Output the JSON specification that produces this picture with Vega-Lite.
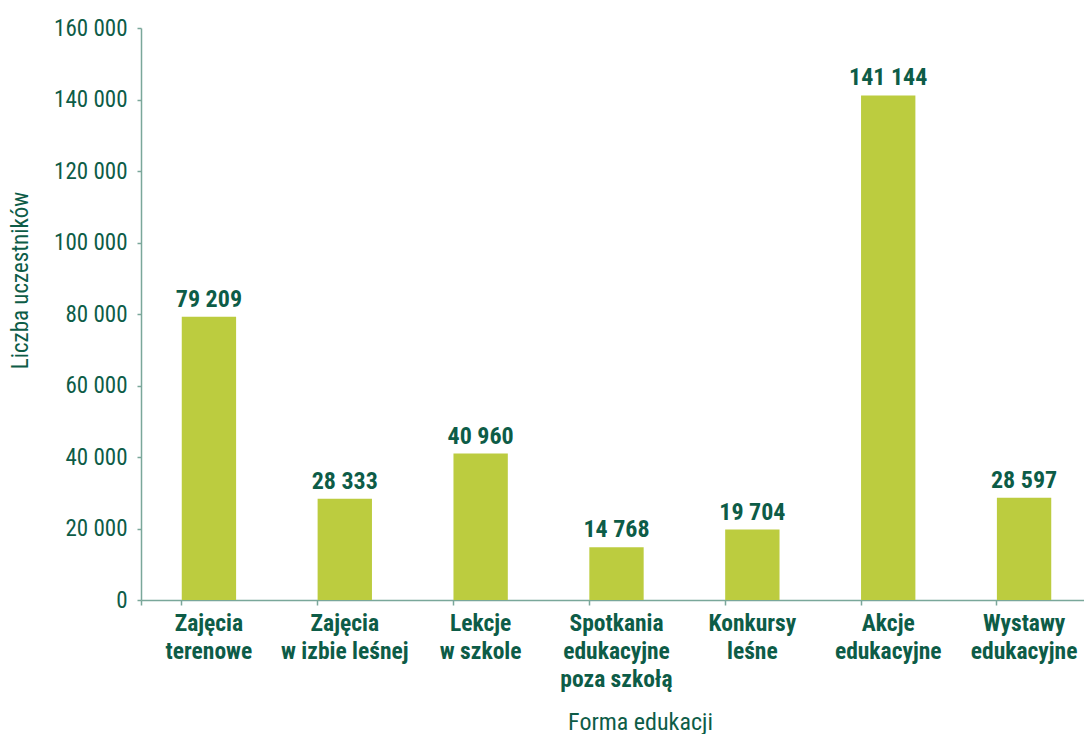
{
  "$schema": "https://vega.github.io/schema/vega-lite/v6.json",
  "width": 951,
  "height": 572,
  "autosize": {"type": "none"},
  "padding": {"left": 141, "top": 28, "right": 0, "bottom": 134},
  "background": "white",
  "config": {
    "view": {"stroke": null},
    "locale": {"number": {"decimal": ",", "thousands": " ", "grouping": [3], "currency": ["", " zł"]}},
    "font": "Roboto Condensed, Roboto"
  },
  "data": {
    "values": [
      {"forma": "Zajęcia\nterenowe", "liczba": 79209},
      {"forma": "Zajęcia\nw izbie leśnej", "liczba": 28333},
      {"forma": "Lekcje\nw szkole", "liczba": 40960},
      {"forma": "Spotkania\nedukacyjne\npoza szkołą", "liczba": 14768},
      {"forma": "Konkursy\nleśne", "liczba": 19704},
      {"forma": "Akcje\nedukacyjne", "liczba": 141144},
      {"forma": "Wystawy\nedukacyjne", "liczba": 28597}
    ]
  },
  "encoding": {
    "x": {
      "field": "forma",
      "type": "nominal",
      "sort": null,
      "scale": {"paddingInner": 0.6, "paddingOuter": 0.3},
      "axis": {
        "title": "Forma edukacji",
        "titleFont": "Roboto Condensed, Roboto",
        "titleFontSize": 24,
        "titleFontWeight": "normal",
        "titleColor": "#0d5c47",
        "titleX": 499,
        "titleY": 122,
        "titleBaseline": "middle",
        "labelAngle": 0,
        "labelExpr": "split(datum.label, '\\n')",
        "labelFont": "Roboto Condensed, Roboto",
        "labelFontSize": 23.5,
        "labelFontWeight": "bold",
        "labelColor": "#0d5c47",
        "labelLineHeight": 28,
        "labelPadding": 6,
        "labelBaseline": "top",
        "bandPosition": 0,
        "tickExtra": true,
        "tickSize": 5,
        "tickColor": "#7aa79a",
        "domainColor": "#7aa79a",
        "domainWidth": 1.5,
        "tickWidth": 1.5
      }
    },
    "y": {
      "field": "liczba",
      "type": "quantitative",
      "scale": {"domain": [0, 160000]},
      "axis": {
        "title": "Liczba uczestników",
        "titleFont": "Roboto Condensed, Roboto",
        "titleFontSize": 23,
        "titleFontWeight": "normal",
        "titleColor": "#0d5c47",
        "titleX": -121,
        "titleY": 252,
        "titleBaseline": "middle",
        "values": [0, 20000, 40000, 60000, 80000, 100000, 120000, 140000, 160000],
        "format": ",.0f",
        "grid": false,
        "labelFont": "Roboto Condensed, Roboto",
        "labelFontSize": 23,
        "labelColor": "#0d5c47",
        "labelPadding": 10,
        "tickSize": 4,
        "tickColor": "#7aa79a",
        "domainColor": "#7aa79a",
        "domainWidth": 1.5,
        "tickWidth": 1.5
      }
    }
  },
  "layer": [
    {"mark": {"type": "bar", "color": "#bccc3f"}},
    {
      "mark": {"type": "text", "baseline": "bottom", "dy": -5, "fontSize": 24, "fontWeight": "bold", "color": "#0d5c47", "font": "Roboto Condensed, Roboto"},
      "encoding": {"text": {"field": "liczba", "type": "quantitative", "format": ",.0f"}}
    }
  ]
}
